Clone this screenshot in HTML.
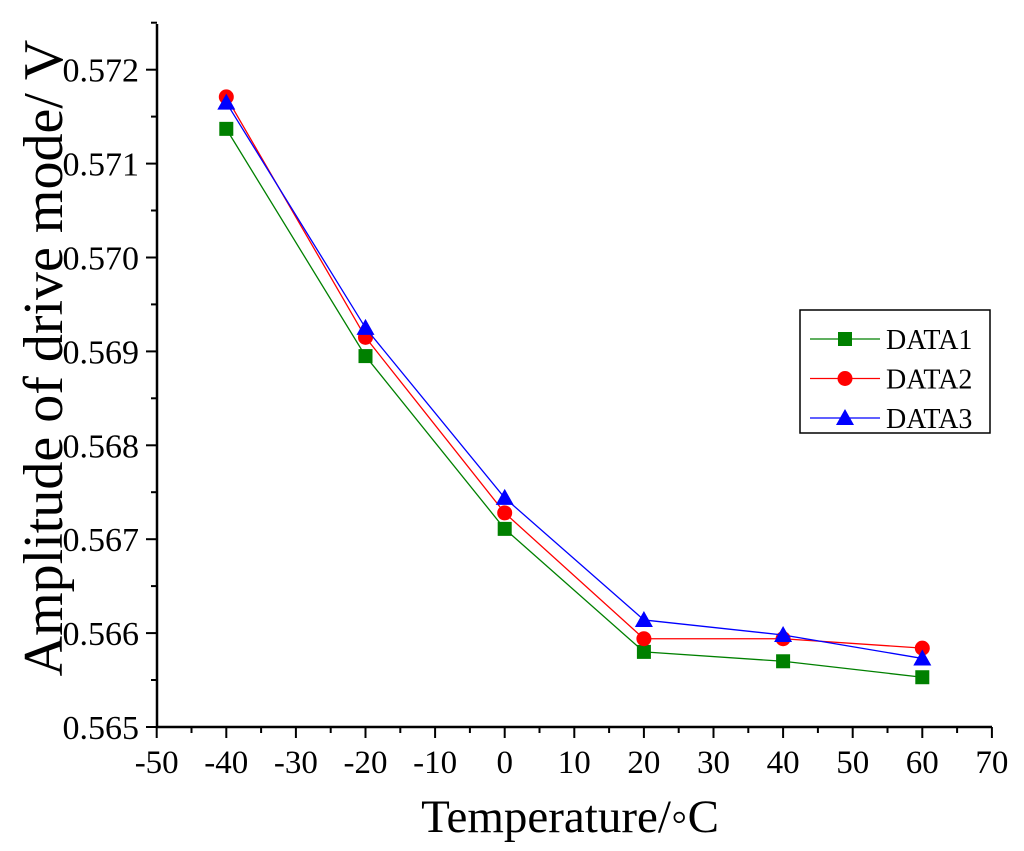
<!DOCTYPE html>
<html><head><meta charset="utf-8"><style>
body{margin:0;background:#fff}
svg text{font-family:"Liberation Serif",serif;fill:#000}
</style></head><body>
<svg id="c" width="1024" height="846"></svg>
<script>
const xs=[-40,-20,0,20,40,60];
const data1=[0.57137,0.56895,0.56711,0.56580,0.56570,0.56553];
const data2=[0.57171,0.56915,0.56728,0.56594,0.56594,0.56584];
const data3=[0.57165,0.56925,0.56744,0.56614,0.56598,0.56573];
const xTicks=[-50,-40,-30,-20,-10,0,10,20,30,40,50,60,70];
const yTicks=[0.565,0.566,0.567,0.568,0.569,0.570,0.571,0.572];
const seriesNames=["DATA1","DATA2","DATA3"];
const NS="http://www.w3.org/2000/svg";
const svg=document.getElementById('c');
const X=v=>156.7+(v+50)*6.96;
const Y=v=>727-(v-0.565)*93900;
function el(t,a,p){const e=document.createElementNS(NS,t);for(const k in a)e.setAttribute(k,a[k]);(p||svg).appendChild(e);return e;}
let e;
e=el('path',{d:`M157,24 V727 H992`,fill:'none',stroke:'#000','stroke-width':2.5});


xTicks.forEach((t,i)=>{const x=X(t);
 e=el('line',{x1:x,x2:x,y1:727,y2:738,stroke:'#000','stroke-width':2});
 
 
 if(i<xTicks.length-1){e=el('line',{x1:x+34.8,x2:x+34.8,y1:727,y2:733,stroke:'#000','stroke-width':2});
 
 }
 e=el('text',{x:x,y:773,'font-size':33,'text-anchor':'middle'});e.textContent=t;
 
 
});
yTicks.forEach((t,i)=>{const y=Y(t);
 e=el('line',{x1:146,x2:157,y1:y,y2:y,stroke:'#000','stroke-width':2});
 
 
 e=el('line',{x1:151,x2:157,y1:y-47,y2:y-47,stroke:'#000','stroke-width':2});
 
 
 e=el('text',{x:139,y:y+12,'font-size':34,'text-anchor':'end'});e.textContent=t.toFixed(3);
 
 
});
e=el('text',{x:570,y:832,'font-size':47,'text-anchor':'middle'});e.textContent='Temperature/◦C';


e=el('text',{x:0,y:0,'font-size':56,'text-anchor':'middle',transform:'translate(62,358) rotate(-90)'});e.textContent='Amplitude of drive mode/ V';


const cols=['#008000','#ff0000','#0000ff'];
function marker(k,x,y,g){
 if(k==0)return el('rect',{x:x-7,y:y-7,width:14,height:14,fill:cols[0]},g);
 if(k==1)return el('circle',{cx:x,cy:y,r:7.5,fill:cols[1]},g);
 return el('path',{d:`M${x},${y-9} L${x+9},${y+7} L${x-9},${y+7}Z`,fill:cols[2]},g);
}
[data1,data2,data3].forEach((d,k)=>{
 const g=el('g',{});
 
 
 e=el('polyline',{points:d.map((v,i)=>X(xs[i])+','+Y(v)).join(' '),fill:'none',stroke:cols[k],'stroke-width':1.3},g);
 
 
 d.forEach((v,i)=>{e=marker(k,X(xs[i]),Y(v),g);
  
  });
});
const lg=el('g',{});


el('rect',{x:800,y:310,width:190,height:123,fill:'#fff',stroke:'#000','stroke-width':1.5},lg);
seriesNames.forEach((n,k)=>{const y=339+k*39.5;
 const g=el('g',{},lg);
 
 
 el('line',{x1:810,x2:880,y1:y,y2:y,stroke:cols[k],'stroke-width':1.3},g);
 marker(k,845,y,g);
 const t=el('text',{x:886,y:y+10,'font-size':28},g);t.textContent=n;
});
</script>
</body></html>
